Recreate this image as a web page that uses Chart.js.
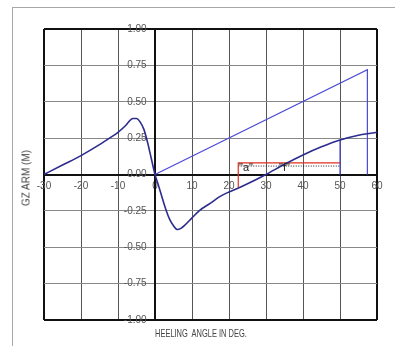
<!DOCTYPE html>
<html>
<head>
<meta charset="utf-8">
<script src="https://cdn.jsdelivr.net/npm/chart.js@4"></script>
<style>
html,body{margin:0;padding:0;background:#fff;overflow:hidden;width:395px;height:346px;}
#frame{position:absolute;left:12px;top:7px;width:420px;height:400px;border-left:1px solid #a8a8a8;border-top:1px solid #a8a8a8;}
#wrap{position:absolute;left:0;top:0;width:395px;height:346px;}
.t{position:absolute;font-family:"Liberation Sans",Arial,sans-serif;font-size:10px;color:#444;white-space:nowrap;}
#xt{left:155px;top:327px;font-size:11px;transform:scaleX(0.68);transform-origin:0 50%;}
#yt{left:26px;top:178px;transform:translate(-50%,-50%) rotate(-90deg);}
</style>
</head>
<body>
<div id="frame"></div>
<div id="wrap"><canvas id="c" width="395" height="346"></canvas></div>
<div class="t" id="xt">HEELING&nbsp; ANGLE IN DEG.</div>
<div class="t" id="yt">GZ ARM (M)</div>
<script>
// GZ righting-arm curve
const gzAngles = [-30,-25,-20,-15,-12,-10,-8,-7,-6,-5,-4,-3,-2,-1,0,1,2,3,4,5,6,7,8,10,12,15,17.5,20,23,25,30,35,40,45,50,55,60];
const gzValues = [0,0.065,0.13,0.205,0.255,0.29,0.335,0.365,0.385,0.385,0.36,0.31,0.22,0.11,0,-0.08,-0.165,-0.245,-0.31,-0.352,-0.378,-0.37,-0.35,-0.298,-0.248,-0.197,-0.152,-0.12,-0.088,-0.064,0,0.07,0.134,0.19,0.237,0.27,0.29];
// heeling line
const heelAngles = [0,57.4,57.4];
const heelValues = [0,0.72,0];
// vertical at 50 deg
const v50Angles = [50,50];
const v50Values = [0,0.237];
// red bracket
const redAngles = [22.5,22.5,50];
const redValues = [-0.09,0.08,0.08];
// dotted line
const dotAngles = [22.5,50];
const dotValues = [0.058,0.058];
// annotation labels
const annoLabels = ['"a"','"f"'];
const annoAngles = [24.6,35.0];
const annoValues = [0.045,0.045];
// ticks
const xTicks = [-30,-20,-10,0,10,20,30,40,50,60];
const yTicks = [-1,-0.75,-0.5,-0.25,0,0.25,0.5,0.75,1];

const pts = (xs, ys) => xs.map((x,i)=>({x:x,y:ys[i]}));

const annoPlugin = {
  id:'anno',
  afterDatasetsDraw(chart){
    const ctx = chart.ctx, sx = chart.scales.x, sy = chart.scales.y;
    ctx.save();
    ctx.font = '11px "Liberation Sans", Arial, sans-serif';
    ctx.fillStyle = '#222';
    ctx.textAlign = 'center';
    ctx.textBaseline = 'middle';
    annoLabels.forEach((t,i)=>{
      ctx.fillText(t, sx.getPixelForValue(annoAngles[i]), sy.getPixelForValue(annoValues[i]));
    });
    ctx.restore();
  }
};

const edgeW = (mn, mx) => (c) => {
  const v = c.tick ? c.tick.value : null;
  return (v === mn || v === mx || v === 0) ? 2 : 1;
};

new Chart(document.getElementById('c'), {
  type: 'scatter',
  data: {
    datasets: [
      {data: pts(gzAngles, gzValues), showLine:true, borderColor:'#2c2c8e', borderWidth:1.6, pointRadius:0, cubicInterpolationMode:'monotone'},
      {data: pts(heelAngles, heelValues), showLine:true, borderColor:'#4a4ad6', borderWidth:1.2, pointRadius:0, tension:0},
      {data: pts(v50Angles, v50Values), showLine:true, borderColor:'#4a4ad6', borderWidth:1.2, pointRadius:0},
      {data: pts(redAngles, redValues), showLine:true, borderColor:'#e0301e', borderWidth:1.2, pointRadius:0},
      {data: pts(dotAngles, dotValues), showLine:true, borderColor:'#222', borderWidth:1, borderDash:[1,1.5], pointRadius:0}
    ]
  },
  options: {
    responsive:false,
    animation:false,
    layout:{padding:{left:44,right:18,top:29,bottom:26}},
    plugins:{legend:{display:false}, tooltip:{enabled:false}},
    scales:{
      x:{
        type:'linear', min:-30, max:60, position:{y:0},
        afterBuildTicks:(s)=>{s.ticks = xTicks.map(v=>({value:v}));},
        ticks:{color:'#555', padding:6, font:{family:'"Liberation Sans", Arial, sans-serif', size:10}, maxRotation:0, autoSkip:false},
        grid:{drawTicks:false, color:(c)=>{const v=c.tick&&c.tick.value; return (v===-30||v===60||v===0)?'#111':'#555';}, lineWidth:edgeW(-30,60)},
        border:{display:true, color:'#111', width:2}
      },
      y:{
        type:'linear', min:-1, max:1, position:{x:0},
        afterBuildTicks:(s)=>{s.ticks = yTicks.map(v=>({value:v}));},
        ticks:{color:'#555', font:{family:'"Liberation Sans", Arial, sans-serif', size:10}, autoSkip:false,
          callback:(v)=>Number(v).toFixed(2)+'   '},
        grid:{drawTicks:false, color:(c)=>{const v=c.tick&&c.tick.value; return (v===-1||v===1||v===0)?'#111':'#888';}, lineWidth:edgeW(-1,1)},
        border:{display:true, color:'#111', width:2}
      }
    }
  },
  plugins:[annoPlugin]
});
</script>
</body>
</html>
